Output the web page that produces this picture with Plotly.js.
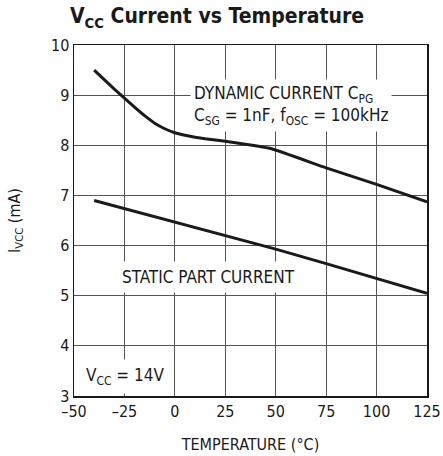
<!DOCTYPE html>
<html>
<head>
<meta charset="utf-8">
<script src="https://cdn.plot.ly/plotly-3.0.1.min.js"></script>
<style>html,body{margin:0;padding:0;background:#fff;}#chart{width:443px;height:456px;}</style>
</head>
<body>
<div id="chart"></div>
<script>
// Data
const dynTemp = [-40, -35, -30, -25, -20, -15, -10, -5, 0, 5, 10, 15, 25, 40, 48, 75, 100, 125];
const dynCurrent = [9.5, 9.31, 9.12, 8.94, 8.76, 8.59, 8.44, 8.33, 8.25, 8.2, 8.16, 8.13, 8.08, 7.99, 7.93, 7.55, 7.22, 6.87];
const staticTemp = [-40, 0, 25, 50, 75, 100, 125];
const staticCurrent = [6.9, 6.47, 6.2, 5.93, 5.64, 5.35, 5.05];
const xTickVals = [-50, -25, 0, 25, 50, 75, 100, 125];
const xTickText = ["\u201350", "\u201325", "0", "25", "50", "75", "100", "125"];
const yTickVals = [3, 4, 5, 6, 7, 8, 9, 10];

const FONT = "Liberation Sans Narrow, DejaVu Sans Condensed, Arial Narrow, sans-serif";

const traces = [
  {x: dynTemp, y: dynCurrent, mode: "lines", line: {color: "#1a1a1a", width: 3, shape: "spline", smoothing: 0.4}, hoverinfo: "skip", name: "Dynamic"},
  {x: staticTemp, y: staticCurrent, mode: "lines", line: {color: "#1a1a1a", width: 3}, hoverinfo: "skip", name: "Static"}
];

const layout = {
  width: 443, height: 456,
  margin: {l: 74, r: 16, t: 45, b: 60},
  paper_bgcolor: "#fff", plot_bgcolor: "#fff",
  showlegend: false,
  font: {family: FONT, color: "#1a1a1a", size: 16},
  title: {text: "V<sub>CC</sub> Current vs Temperature", font: {family: FONT, size: 21, color: "#1a1a1a", weight: "bold"}, x: 0.49, xanchor: "center", y: 0.965, yanchor: "middle"},
  xaxis: {
    range: [-50, 125], tickvals: xTickVals, ticktext: xTickText,
    showgrid: true, gridcolor: "#555", gridwidth: 1,
    showline: true, mirror: true, linecolor: "#1a1a1a", linewidth: 1.5,
    ticks: "", zeroline: false, tickfont: {size: 16},
    title: {text: "TEMPERATURE (°C)", font: {size: 16}, standoff: 19}
  },
  yaxis: {
    range: [3, 10], tickvals: yTickVals,
    showgrid: true, gridcolor: "#555", gridwidth: 1,
    showline: true, mirror: true, linecolor: "#1a1a1a", linewidth: 1.5,
    ticks: "", zeroline: false, tickfont: {size: 16},
    title: {text: "I<sub>VCC</sub> (mA)", font: {size: 16}, standoff: 26}
  },
  annotations: [
    {x: 7.5, y: 8.8, xref: "x", yref: "y", xanchor: "left", yanchor: "middle", align: "left", showarrow: false,
     text: "DYNAMIC CURRENT C<sub>PG</sub><br>C<sub>SG</sub> = 1nF, f<sub>OSC</sub> = 100kHz",
     font: {size: 17}, bgcolor: "#fff", borderpad: 3},
    {x: -29, y: 5.37, xref: "x", yref: "y", xanchor: "left", yanchor: "middle", showarrow: false,
     text: "STATIC PART CURRENT", font: {size: 17}, bgcolor: "#fff", borderpad: 5},
    {x: -47, y: 3.38, xref: "x", yref: "y", xanchor: "left", yanchor: "middle", showarrow: false,
     text: "V<sub>CC</sub> = 14V", font: {size: 17}, bgcolor: "#fff", borderpad: 5}
  ]
};

Plotly.newPlot("chart", traces, layout, {staticPlot: true, displayModeBar: false});
</script>
</body>
</html>
